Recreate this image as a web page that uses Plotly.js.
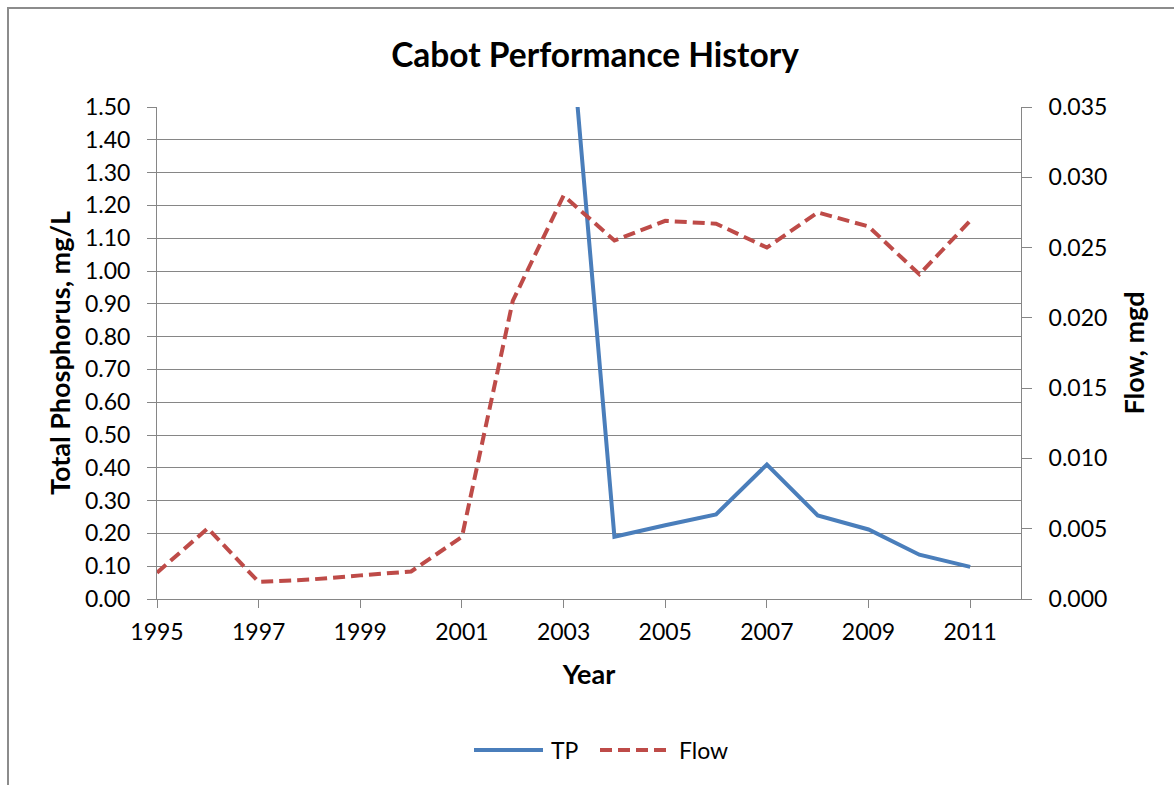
<!DOCTYPE html>
<html>
<head>
<meta charset="utf-8">
<script src="https://cdn.plot.ly/plotly-3.0.1.min.js"></script>
<style>
  html, body { margin: 0; padding: 0; background: #ffffff; }
  #chart { width: 1174px; height: 785px; }
  #frame { position: absolute; left: 7px; top: 7px; width: 1400px; height: 1000px;
           border-left: 2px solid #8c8c8c; border-top: 2px solid #8c8c8c; pointer-events: none; }
</style>
</head>
<body>
<div id="chart"></div>
<div id="frame"></div>
<script>
// Data
const tpYears = [2003, 2004, 2005, 2006, 2007, 2008, 2009, 2010, 2011];
const tpValues = [2.0, 0.19, 0.225, 0.258, 0.41, 0.255, 0.212, 0.135, 0.098];

const flowYears = [1995, 1996, 1997, 1998, 1999, 2000, 2001, 2002, 2003, 2004, 2005, 2006, 2007, 2008, 2009, 2010, 2011];
const flowValues = [0.00187, 0.00503, 0.00121, 0.00138, 0.00168, 0.00196, 0.00442, 0.0212, 0.0287,
                    0.0255, 0.0269, 0.0267, 0.0250, 0.0275, 0.0265, 0.0231, 0.0269];

const seriesNames = ['TP', 'Flow'];
const seriesColors = ['#4A7EBB', '#BE4B48'];

const FONT = 'Lato, "Open Sans", "Noto Sans", sans-serif';
const AXIS_GREY = '#868686';

// plot-area geometry (pixels) used to place the hand-drawn legend in paper units
const PL = 157, PR = 1021, PT = 107, PB = 599;
const px2x = p => (p - PL) / (PR - PL);
const px2y = p => (PB - p) / (PB - PT);

const traces = [
  {
    x: tpYears, y: tpValues, name: seriesNames[0], type: 'scatter', mode: 'lines',
    line: { color: seriesColors[0], width: 4 }, yaxis: 'y', showlegend: false
  },
  {
    x: flowYears, y: flowValues, name: seriesNames[1], type: 'scatter', mode: 'lines',
    line: { color: seriesColors[1], width: 4, dash: '12px,6px' }, yaxis: 'y2', showlegend: false
  }
];

const legendY = px2y(750);
const shapes = [
  { type: 'line', xref: 'paper', yref: 'paper', x0: px2x(474), x1: px2x(543), y0: legendY, y1: legendY,
    line: { color: seriesColors[0], width: 4 } },
  { type: 'line', xref: 'paper', yref: 'paper', x0: px2x(600), x1: px2x(672), y0: legendY, y1: legendY,
    line: { color: seriesColors[1], width: 4, dash: '12px,6px' } }
];
const annotations = [
  { xref: 'paper', yref: 'paper', x: px2x(549), y: legendY, xanchor: 'left', yanchor: 'middle',
    text: seriesNames[0], showarrow: false, font: { family: FONT, size: 23, color: '#000000' } },
  { xref: 'paper', yref: 'paper', x: px2x(677), y: legendY, xanchor: 'left', yanchor: 'middle',
    text: seriesNames[1], showarrow: false, font: { family: FONT, size: 23, color: '#000000' } }
];

const layout = {
  width: 1174, height: 785,
  paper_bgcolor: '#ffffff', plot_bgcolor: '#ffffff',
  margin: { l: PL, r: 1174 - PR, t: PT, b: 785 - PB },
  font: { family: FONT, color: '#000000', size: 23 },
  title: {
    text: '<b>Cabot Performance History</b>',
    font: { family: FONT, size: 33.5, color: '#000000' },
    x: 595 / 1174, xanchor: 'center', y: 1 - 55 / 785, yanchor: 'middle', yref: 'container'
  },
  xaxis: {
    range: [1995, 2012], tickmode: 'linear', tick0: 1995, dtick: 2,
    showgrid: false, zeroline: false,
    showline: true, linecolor: AXIS_GREY, linewidth: 1,
    ticks: 'outside', ticklen: 8, tickcolor: AXIS_GREY, tickwidth: 1,
    ticklabelstandoff: 4,
    tickfont: { family: FONT, size: 23, color: '#000000' },
    title: { text: '<b>Year</b>', font: { family: FONT, size: 27, color: '#000000' }, standoff: 21 },
    automargin: false
  },
  yaxis: {
    range: [0, 1.5], tickmode: 'linear', tick0: 0, dtick: 0.1, tickformat: '.2f',
    showgrid: true, gridcolor: AXIS_GREY, gridwidth: 1, zeroline: false,
    showline: true, linecolor: AXIS_GREY, linewidth: 1,
    ticks: 'outside', ticklen: 9, tickcolor: AXIS_GREY, tickwidth: 1,
    ticklabelstandoff: 12,
    tickfont: { family: FONT, size: 23, color: '#000000' },
    title: { text: '<b>Total Phosphorus, mg/L</b>', font: { family: FONT, size: 27, color: '#000000' }, standoff: 6 },
    automargin: false
  },
  yaxis2: {
    range: [0, 0.035], tickmode: 'linear', tick0: 0, dtick: 0.005, tickformat: '.3f',
    overlaying: 'y', side: 'right',
    showgrid: false, zeroline: false,
    showline: true, linecolor: AXIS_GREY, linewidth: 1,
    ticks: 'outside', ticklen: 10, tickcolor: AXIS_GREY, tickwidth: 1,
    ticklabelstandoff: 12,
    tickfont: { family: FONT, size: 23, color: '#000000' },
    title: { text: '<b>Flow, mgd</b>', font: { family: FONT, size: 27, color: '#000000' }, standoff: 18 },
    automargin: false
  },
  showlegend: false,
  shapes: shapes,
  annotations: annotations
};

Plotly.newPlot('chart', traces, layout, { displayModeBar: false, staticPlot: true });
</script>
</body>
</html>
